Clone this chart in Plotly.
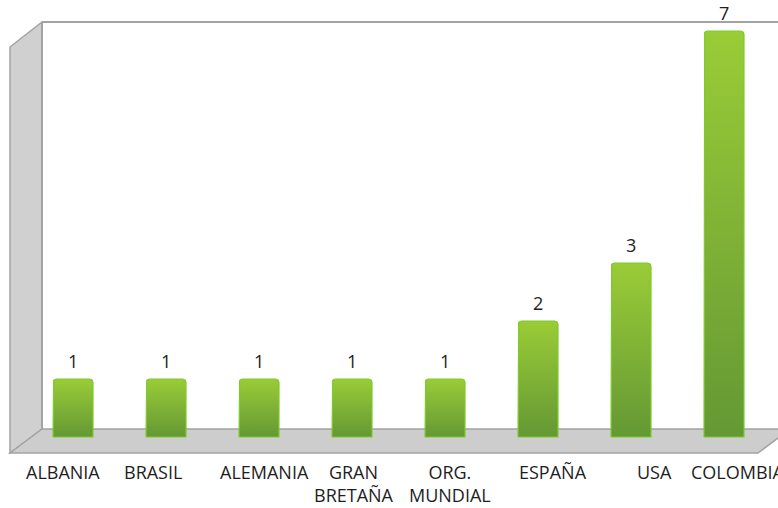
import math
import plotly.graph_objects as go

# Number of items per country / organisation
countries = ["ALBANIA", "BRASIL", "ALEMANIA", "GRAN<br>BRETAÑA", "ORG.<br>MUNDIAL",
             "ESPAÑA", "USA", "COLOMBIA"]
values = [1, 1, 1, 1, 1, 2, 3, 7]

W, H = 778, 508
X0_PX, X_UNIT = 73, 93.0      # pixel centre of first bar, pixels per category
Y0_PX, Y_UNIT = 437, 58.0     # pixel of value 0, pixels per unit
BAR_W = 40 / X_UNIT           # bar width in axis units

x_range = [-X0_PX / X_UNIT, (W - X0_PX) / X_UNIT]
y_range = [-(H - Y0_PX) / Y_UNIT, Y0_PX / Y_UNIT]

# horizontal nudge of each category label (perspective of the floor)
label_shift = [-10, -13, 5, 2, 5, 15, 23, 14]


def px(x, y):
    """pixel -> paper coordinates"""
    return x / W, 1 - y / H


def poly_path(points):
    pts = [px(x, y) for x, y in points]
    return "M " + " L ".join(f"{a:.5f},{b:.5f}" for a, b in pts) + " Z"


def rounded_bar(xc, v, r_px=3.5, steps=5):
    """outline of a bar with rounded top corners, in axis units"""
    hw = BAR_W / 2
    rx, ry = r_px / X_UNIT, r_px / Y_UNIT
    xs, ys = [xc - hw], [0]
    for i in range(steps + 1):
        a = math.pi - (math.pi / 2) * i / steps
        xs.append(xc - hw + rx + rx * math.cos(a))
        ys.append(v - ry + ry * math.sin(a))
    for i in range(steps + 1):
        a = math.pi / 2 - (math.pi / 2) * i / steps
        xs.append(xc + hw - rx + rx * math.cos(a))
        ys.append(v - ry + ry * math.sin(a))
    xs += [xc + hw, xc - hw]
    ys += [0, 0]
    return xs, ys


fig = go.Figure()

for i, v in enumerate(values):
    bx, by = rounded_bar(i, v)
    fig.add_trace(go.Scatter(
        x=bx, y=by, mode="lines", fill="toself",
        fillgradient=dict(type="vertical",
                          colorscale=[[0, "#649834"], [1, "#9ACC37"]]),
        line=dict(color="#7CCB2B", width=1.2),
        hoverinfo="skip", showlegend=False,
    ))

gray_line = "#A3A3A3"
shapes = [
    # left side wall
    dict(type="path", path=poly_path([(10, 47), (42, 22), (42, 429), (10, 453)]),
         xref="paper", yref="paper", fillcolor="#D0D0D0",
         line=dict(color=gray_line, width=1.5), layer="below"),
    # floor
    dict(type="path", path=poly_path([(10, 453), (42, 429), (790, 429), (758, 453)]),
         xref="paper", yref="paper", fillcolor="#CDCDCD",
         line=dict(color=gray_line, width=1.5), layer="below"),
    # back wall edges
    dict(type="line", x0=42 / W, x1=1.01, y0=1 - 22 / H, y1=1 - 22 / H,
         xref="paper", yref="paper", line=dict(color=gray_line, width=2), layer="below"),
    dict(type="line", x0=42 / W, x1=42 / W, y0=1 - 22 / H, y1=1 - 429 / H,
         xref="paper", yref="paper", line=dict(color=gray_line, width=2), layer="below"),
]

annotations = []
# value labels above the bars
for i, v in enumerate(values):
    annotations.append(dict(
        x=i, y=v, xref="x", yref="y", text=str(v), showarrow=False,
        xanchor="center", yanchor="bottom", yshift=4,
        font=dict(family="Open Sans", size=18, color="#1e1e1e"),
    ))
# category labels below the floor
for i, (name, dx) in enumerate(zip(countries, label_shift)):
    annotations.append(dict(
        x=i, xref="x", y=1 - 458 / H, yref="paper", text=name,
        showarrow=False, xanchor="center", yanchor="top", xshift=dx,
        align="center",
        font=dict(family="Open Sans", size=18, color="#1e1e1e"),
    ))

fig.update_layout(
    width=W, height=H,
    margin=dict(l=0, r=0, t=0, b=0),
    paper_bgcolor="white", plot_bgcolor="white",
    shapes=shapes, annotations=annotations,
    xaxis=dict(range=x_range, visible=False, fixedrange=True),
    yaxis=dict(range=y_range, visible=False, fixedrange=True),
    showlegend=False,
)

fig.write_html("out.html")
